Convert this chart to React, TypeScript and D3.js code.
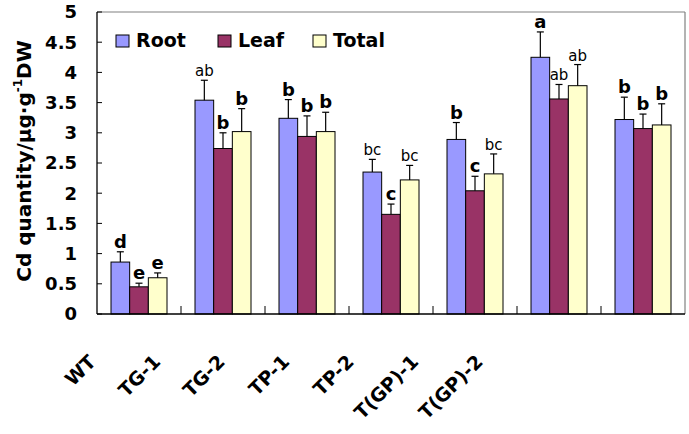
import React from "react";
import * as d3 from "d3";

const categories = ["WT", "TG-1", "TG-2", "TP-1", "TP-2", "T(GP)-1", "T(GP)-2"];
const seriesNames = ["Root", "Leaf", "Total"];
const rootValues = [0.86, 3.54, 3.24, 2.35, 2.89, 4.25, 3.22];
const leafValues = [0.45, 2.74, 2.94, 1.65, 2.04, 3.56, 3.07];
const totalValues = [0.6, 3.02, 3.02, 2.22, 2.32, 3.78, 3.13];
const rootErrors = [0.17, 0.33, 0.31, 0.21, 0.28, 0.42, 0.37];
const leafErrors = [0.06, 0.26, 0.34, 0.17, 0.24, 0.24, 0.24];
const totalErrors = [0.08, 0.38, 0.32, 0.24, 0.33, 0.35, 0.35];
const rootLetters = ["d", "ab", "b", "bc", "b", "a", "b"];
const leafLetters = ["e", "b", "b", "c", "c", "ab", "b"];
const totalLetters = ["e", "b", "b", "bc", "bc", "ab", "b"];
const yTicks = [0, 0.5, 1, 1.5, 2, 2.5, 3, 3.5, 4, 4.5, 5];
const colors = ["#9999FF", "#993366", "#FFFFCC"];

const W = 689;
const H = 434;
const left = 97;
const right = 685;
const top = 12;
const bottom = 314;

const BOLD = "'DejaVu Sans', sans-serif";

export default function App() {
  const x = d3
    .scaleBand<string>()
    .domain(categories)
    .range([left, right])
    .paddingInner(1 / 3)
    .paddingOuter(1 / 6);
  const xs = d3.scaleBand<string>().domain(seriesNames).range([0, x.bandwidth()]);
  const y = d3.scaleLinear().domain([0, 5]).range([bottom, top]);
  const labelX = d3.scalePoint<string>().domain(categories).range([97, 484]);

  const vals = [rootValues, leafValues, totalValues];
  const errs = [rootErrors, leafErrors, totalErrors];
  const letters = [rootLetters, leafLetters, totalLetters];
  const step = x.step();

  return (
    <svg width={W} height={H} style={{ display: "block", position: "absolute", left: 0, top: 0 }}>
      <rect x={0} y={0} width={W} height={H} fill="#fff" />
      {/* frame */}
      <line x1={left} x2={right} y1={top} y2={top} stroke="#808080" strokeWidth={1.2} />
      <line x1={right} x2={right} y1={top} y2={bottom} stroke="#808080" strokeWidth={1.2} />
      {/* bars */}
      {categories.map((c, i) =>
        seriesNames.map((s, j) => {
          const v = vals[j][i];
          const e = errs[j][i];
          const bx = (x(c) as number) + (xs(s) as number);
          const bw = xs.bandwidth();
          const cx = bx + bw / 2;
          const letter = letters[j][i];
          const isBold = letter.length === 1;
          return (
            <g key={c + s}>
              <rect x={bx} y={y(v)} width={bw} height={y(0) - y(v)} fill={colors[j]} stroke="#000" strokeWidth={1} />
              <line x1={cx} x2={cx} y1={y(v)} y2={y(v + e)} stroke="#000" strokeWidth={1.2} />
              <line x1={cx - 3.5} x2={cx + 3.5} y1={y(v + e)} y2={y(v + e)} stroke="#000" strokeWidth={1.2} />
              <text
                x={cx}
                y={y(v + e) - 4}
                textAnchor="middle"
                fontFamily={BOLD}
                fontWeight={isBold ? "bold" : "normal"}
                fontSize={isBold ? 18 : 15}
                fill="#000"
              >
                {letter}
              </text>
            </g>
          );
        })
      )}
      {/* axes */}
      <line x1={left} x2={left} y1={top} y2={bottom} stroke="#000" strokeWidth={1.3} />
      <line x1={left} x2={right} y1={bottom} y2={bottom} stroke="#000" strokeWidth={1.3} />
      {yTicks.map((t) => (
        <g key={t}>
          <line x1={left} x2={left + 5} y1={y(t)} y2={y(t)} stroke="#000" strokeWidth={1} />
          <text
            x={77}
            y={y(t)}
            dy="0.36em"
            textAnchor="end"
            fontFamily={BOLD}
            fontWeight="bold"
            fontSize={18}
            fill="#000"
          >
            {String(t)}
          </text>
        </g>
      ))}
      {categories.slice(1).map((c) => {
        const tx = (x(c) as number) - (step - x.bandwidth()) / 2;
        return <line key={c} x1={tx} x2={tx} y1={bottom} y2={bottom - 8} stroke="#000" strokeWidth={1} />;
      })}
      {/* x labels */}
      {categories.map((c) => (
        <text
          key={c}
          transform={`translate(${labelX(c)},363) rotate(-45)`}
          textAnchor="end"
          fontFamily={BOLD}
          fontWeight="bold"
          fontSize={19}
          fill="#000"
        >
          {c}
        </text>
      ))}
      {/* y title */}
      <text
        transform={`translate(31,161) rotate(-90)`}
        textAnchor="middle"
        fontFamily={BOLD}
        fontWeight="bold"
        fontSize={20}
        fill="#000"
      >
        Cd quantity/μg·g
        <tspan fontSize={12} dy={-9}>-1</tspan>
        <tspan dy={9}>DW</tspan>
      </text>
      {/* legend */}
      {seriesNames.map((s, j) => {
        const lx = [116, 218, 313][j];
        return (
          <g key={s}>
            <rect x={lx} y={35} width={13} height={12} fill={colors[j]} stroke="#000" strokeWidth={1} />
            <text x={lx + 20} y={47} fontFamily={BOLD} fontWeight="bold" fontSize={19} fill="#000">
              {s}
            </text>
          </g>
        );
      })}
    </svg>
  );
}
